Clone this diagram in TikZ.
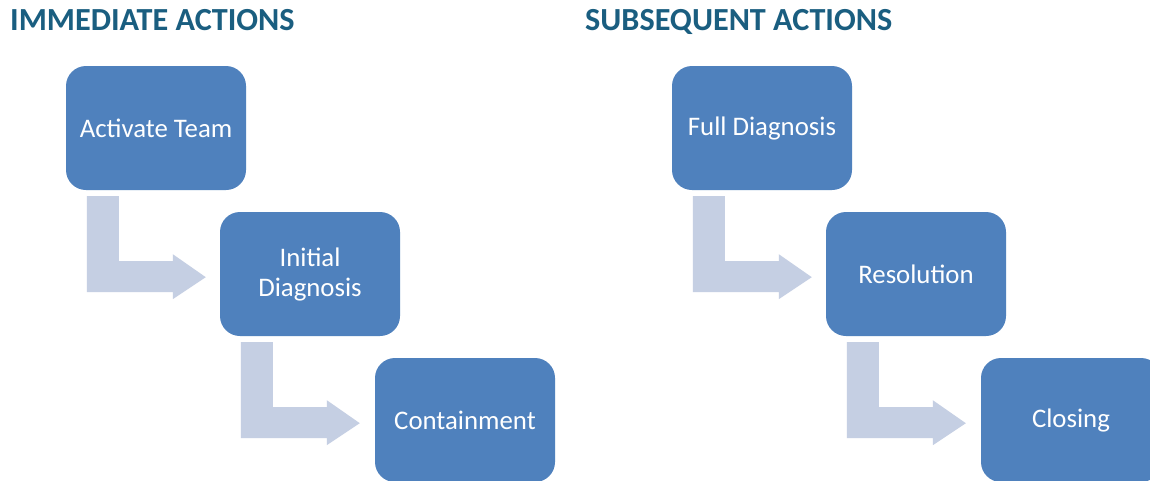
\documentclass[tikz,border=0pt]{standalone}
\usepackage{fontspec}
\setmainfont{Carlito}
\usetikzlibrary{calc}
\definecolor{boxc}{HTML}{4F81BD}
\definecolor{arrowc}{HTML}{C5CFE3}
\definecolor{titlec}{HTML}{1A5E80}
\tikzset{
  stepbox/.style={fill=boxc, draw=none, rounded corners=20pt, minimum width=180pt, minimum height=124pt, inner sep=0pt, text=white, font=\fontsize{26.8}{30}\selectfont, align=center},
  titletext/.style={anchor=base west, inner sep=0pt, text=titlec, font=\fontsize{32.2}{36}\selectfont\bfseries},
  bent/.pic={\fill[arrowc] (0,0) -- (32,0) -- (32,65) -- (86,65) -- (86,58) -- (119,81) -- (86,103) -- (86,96) -- (0,96) -- cycle;}
}
\begin{document}
\begin{tikzpicture}[x=1pt,y=-1pt]
\useasboundingbox (0,0) rectangle (1150,480);
\clip (0,0) rectangle (1150,480);
\fill[white] (0,0) rectangle (1150,480);
\node[titletext] (t1) at (10,30) {IMMEDIATE ACTIONS};
\node[titletext] (t2) at (585,30) {SUBSEQUENT ACTIONS};
% left column
\node[stepbox] (a1) at (156,128) {Activate Team};
\node[stepbox] (a2) at (310,274) {Initial\\Diagnosis};
\node[stepbox] (a3) at (465,420) {Containment};
% right column
\node[stepbox] (b1) at (762,128) {Full Diagnosis};
\node[stepbox] (b2) at (916,274) {Resolution};
\node[stepbox] (b3) at (1071,420) {Closing};
% bent arrows
\pic at ($(a1.south west)+(21,6)$) {bent};
\pic at ($(a2.south west)+(21,6)$) {bent};
\pic at ($(b1.south west)+(21,6)$) {bent};
\pic at ($(b2.south west)+(21,6)$) {bent};
\end{tikzpicture}
\end{document}
